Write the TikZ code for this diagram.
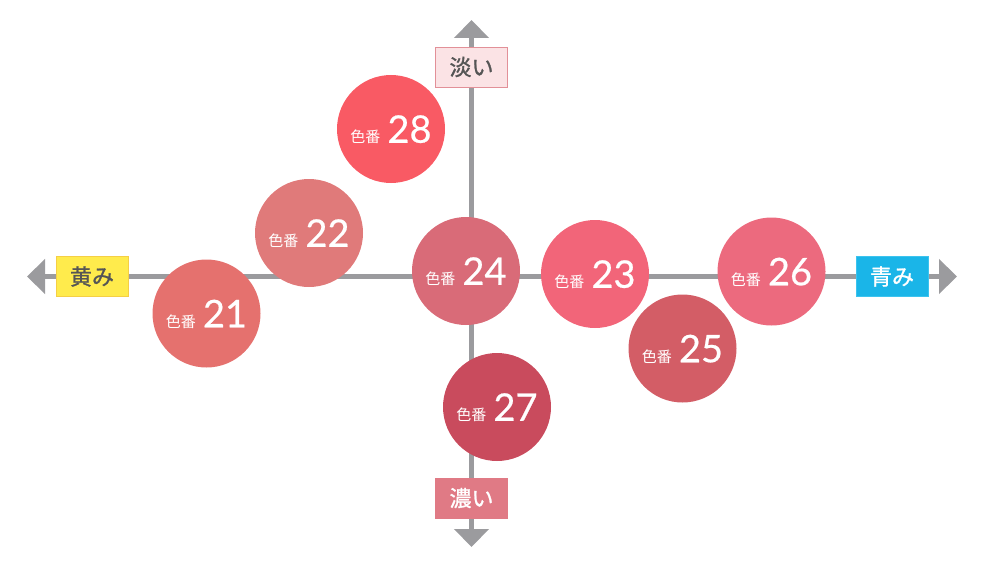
\documentclass[tikz,border=0pt]{standalone}
\usepackage{fontspec}
\setmainfont{Lato}
\newfontfamily\jpfont{Noto Sans CJK JP}
\newfontfamily\jptag[FakeBold=1.2]{Noto Sans CJK JP}
\newfontfamily\numfont[FakeBold=0.5]{Lato}
\usepackage{xcolor}
\usetikzlibrary{
    arrows.meta,
    positioning
}

\definecolor{axisgray}{HTML}{9B9B9E}
\definecolor{textgray}{HTML}{555555}
\definecolor{c21col}{HTML}{E5716E}
\definecolor{c22col}{HTML}{E07A7A}
\definecolor{c23col}{HTML}{F26579}
\definecolor{c24col}{HTML}{D96B78}
\definecolor{c25col}{HTML}{D35D66}
\definecolor{c26col}{HTML}{EC6A7E}
\definecolor{c27col}{HTML}{C94B5D}
\definecolor{c28col}{HTML}{F95A64}
\definecolor{yellowfill}{HTML}{FFEB4C}
\definecolor{yellowline}{HTML}{F5CF45}
\definecolor{bluefill}{HTML}{1AB5E8}
\definecolor{blueline}{HTML}{3CC3EE}
\definecolor{palefill}{HTML}{FBE3E5}
\definecolor{paleline}{HTML}{E29098}
\definecolor{deepfill}{HTML}{E07A85}

\newcommand{\shade}[1]{{\jpfont\fontsize{15}{15}\selectfont 色番}\hspace{7pt}{\numfont\fontsize{38}{38}\selectfont #1}}

\tikzset{
    axis/.style={draw=axisgray, line width=5pt, {Triangle[length=18pt,width=34pt]}-{Triangle[length=18pt,width=34pt]}},
    tag/.style={draw, line width=0.8pt, minimum width=72pt, minimum height=40pt, inner sep=0pt,
        font=\jptag\fontsize{22}{22}\selectfont},
    swatch/.style={circle, fill=#1, minimum size=108pt, inner sep=0pt, text=white, text depth=0pt}
}

\begin{document}
\begin{tikzpicture}[x=1pt, y=-1pt]
    \useasboundingbox (0, 0) rectangle (984, 567);
    \coordinate (west) at (27, 276.5);
    \coordinate (east) at (957, 276.5);
    \coordinate (north) at (471.5, 20);
    \coordinate (south) at (471.5, 547);
    \draw[axis] (west) -- (east);
    \draw[axis] (north) -- (south);

    \node[tag, fill=yellowfill, draw=yellowline, text=textgray] (yellowish) at (92, 276.5) {黄み};
    \node[tag, fill=bluefill, draw=blueline, text=white] (bluish) at (892, 276.5) {青み};
    \node[tag, fill=palefill, draw=paleline, text=textgray] (pale) at (471.5, 67) {淡い};
    \node[tag, fill=deepfill, draw=deepfill, text=white] (deep) at (471.5, 498) {濃い};

    \node[swatch=c28col] (c28) at (391, 129) {\shade{28}};
    \node[swatch=c22col] (c22) at (309, 233) {\shade{22}};
    \node[swatch=c21col] (c21) at (206.5, 313.5) {\shade{21}};
    \node[swatch=c24col] (c24) at (466, 271) {\shade{24}};
    \node[swatch=c23col] (c23) at (595, 274) {\shade{23}};
    \node[swatch=c26col] (c26) at (771.5, 271.5) {\shade{26}};
    \node[swatch=c25col] (c25) at (682.5, 348.5) {\shade{25}};
    \node[swatch=c27col] (c27) at (497, 407) {\shade{27}};
\end{tikzpicture}
\end{document}
